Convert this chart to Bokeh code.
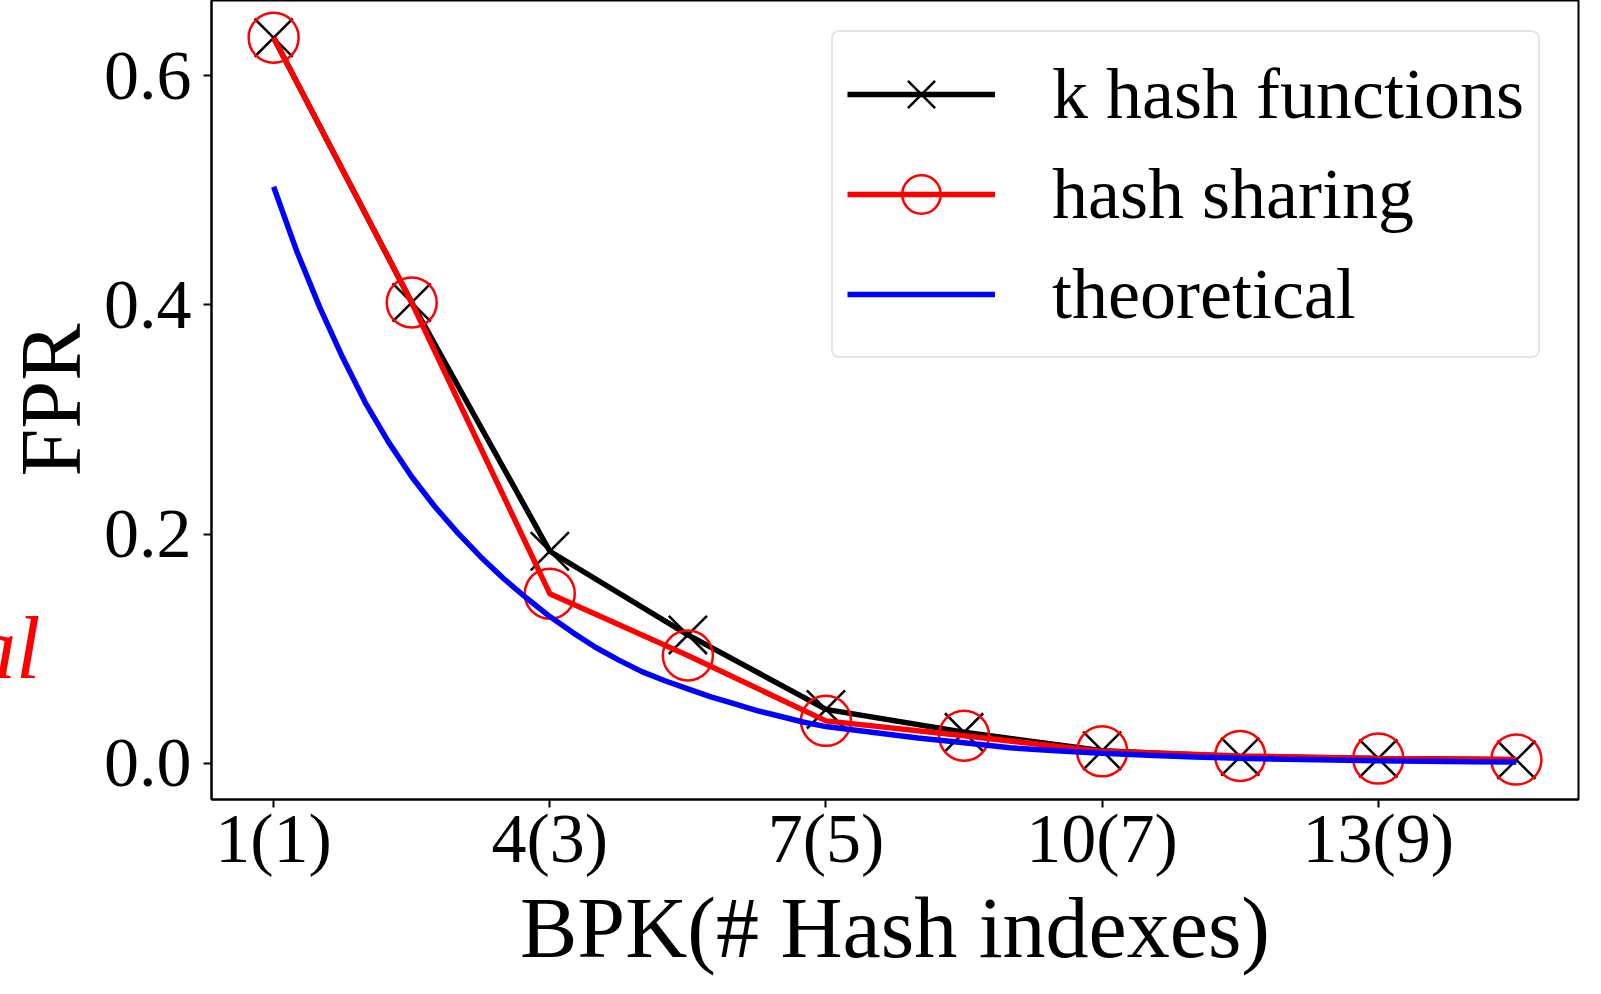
from bokeh.plotting import figure
from bokeh.models import (Range1d, FixedTicker, PrintfTickFormatter, Legend, LegendItem,
                          LinearAxis)
from bokeh.embed import file_html
from bokeh.resources import INLINE

# ---- data ----
bpk = [1, 2.5, 4, 5.5, 7, 8.5, 10, 11.5, 13, 14.5]
k_hash = [0.633, 0.402, 0.185, 0.112, 0.047, 0.027, 0.011, 0.0058, 0.0042, 0.003]
hash_sharing = [0.633, 0.402, 0.148, 0.094, 0.037, 0.024, 0.0104, 0.0064, 0.0041, 0.0032]

theo_x = [1, 1.25, 1.5, 1.75, 2, 2.25, 2.5, 2.75, 3, 3.25, 3.5, 3.75, 4, 4.25, 4.5, 4.75,
          5, 5.25, 5.5, 5.75, 6, 6.25, 6.5, 6.75, 7, 7.5, 8, 8.5, 9, 9.5, 10, 10.5, 11,
          11.5, 12, 12.5, 13, 13.5, 14, 14.5]
theo_y = [0.503, 0.447, 0.398, 0.354, 0.314, 0.280, 0.250, 0.224, 0.201, 0.180, 0.161,
          0.144, 0.128, 0.114, 0.101, 0.090, 0.080, 0.072, 0.065, 0.058, 0.052, 0.046,
          0.041, 0.036, 0.032, 0.027, 0.022, 0.018, 0.0135, 0.011, 0.0088, 0.0070,
          0.0055, 0.0044, 0.0035, 0.0028, 0.0022, 0.0018, 0.0014, 0.0011]

x_ticks = [1, 4, 7, 10, 13]
x_tick_labels = ["1(1)", "4(3)", "7(5)", "10(7)", "13(9)"]
y_ticks = [0.0, 0.2, 0.4, 0.6]

# clipped fragment of a neighbouring panel's red label (shown at the far left)
fragment_text = "al"
fragment_y = 0.100

FONT = "Liberation Serif"

p = figure(width=1585, height=978, output_backend="svg", toolbar_location=None,
           x_range=Range1d(0.325, 15.175), y_range=Range1d(-0.0316, 0.6655),
           min_border_left=207, min_border_right=7, min_border_top=0, min_border_bottom=177)
p.grid.visible = False
p.background_fill_color = "white"
p.border_fill_color = "white"
p.outline_line_color = "black"
p.outline_line_width = 2

LW = 5.5
l1 = p.line(bpk, k_hash, line_color="black", line_width=LW)
s1 = p.scatter(bpk, k_hash, marker="x", size=54, line_color="black", line_width=2.5)
l2 = p.line(bpk, hash_sharing, line_color="red", line_width=LW)
s2 = p.scatter(bpk, hash_sharing, marker="circle", size=50, line_color="red",
               fill_color=None, line_width=2.5)
l3 = p.line(theo_x, theo_y, line_color="blue", line_width=LW)

# axes
xa = p.xaxis[0]
xa.ticker = FixedTicker(ticks=x_ticks)
xa.major_label_overrides = {t: s for t, s in zip(x_ticks, x_tick_labels)}
ya = p.yaxis[0]
ya.ticker = FixedTicker(ticks=y_ticks)
ya.formatter = PrintfTickFormatter(format="%.1f")
for ax in (xa, ya):
    ax.axis_line_width = 2
    ax.axis_line_color = "black"
    ax.major_tick_line_width = 2
    ax.major_tick_out = 8
    ax.major_tick_in = 0
    ax.minor_tick_line_color = None
    ax.major_label_text_font = FONT
    ax.major_label_text_font_size = "70px"
    ax.major_label_text_color = "black"
    ax.major_label_text_line_height = 1.0
    ax.axis_label_text_font = FONT
    ax.axis_label_text_font_style = "normal"
    ax.axis_label_text_color = "black"
    ax.axis_label_text_line_height = 1.0
xa.axis_label = "BPK(# Hash indexes)"
xa.axis_label_text_font_size = "86px"
xa.major_label_standoff = -8
xa.axis_label_standoff = 0
ya.major_label_standoff = 12

# outer left axis: carries the "FPR" title and the cut-off red fragment
ya2 = LinearAxis(ticker=FixedTicker(ticks=[fragment_y]),
                 major_label_overrides={fragment_y: fragment_text})
ya2.axis_line_color = None
ya2.major_tick_line_color = None
ya2.minor_tick_line_color = None
ya2.major_tick_out = 0
ya2.major_tick_in = 0
ya2.major_label_standoff = 60
ya2.major_label_text_font = FONT
ya2.major_label_text_font_size = "88px"
ya2.major_label_text_font_style = "italic"
ya2.major_label_text_color = "red"
ya2.axis_label = "FPR"
ya2.axis_label_text_font = FONT
ya2.axis_label_text_font_size = "86px"
ya2.axis_label_text_font_style = "normal"
ya2.axis_label_text_color = "black"
ya2.axis_label_text_line_height = 1.0
ya2.axis_label_standoff = -130
p.add_layout(ya2, "left")

# legend
legend = Legend(items=[
    LegendItem(label="k hash functions", renderers=[l1, s1]),
    LegendItem(label="hash sharing", renderers=[l2, s2]),
    LegendItem(label="theoretical", renderers=[l3]),
], location=(620, 441))
legend.label_text_font = FONT
legend.label_text_font_size = "72px"
legend.label_text_color = "black"
legend.glyph_width = 148
legend.glyph_height = 96
legend.spacing = 4
legend.padding = 14
legend.label_standoff = 57
legend.border_line_color = "#cccccc"
legend.border_line_width = 2
legend.background_fill_color = "white"
legend.background_fill_alpha = 0.8
try:
    legend.border_radius = 8
except Exception:
    pass
p.add_layout(legend, "center")

open("out.html", "w").write(file_html(p, INLINE))
